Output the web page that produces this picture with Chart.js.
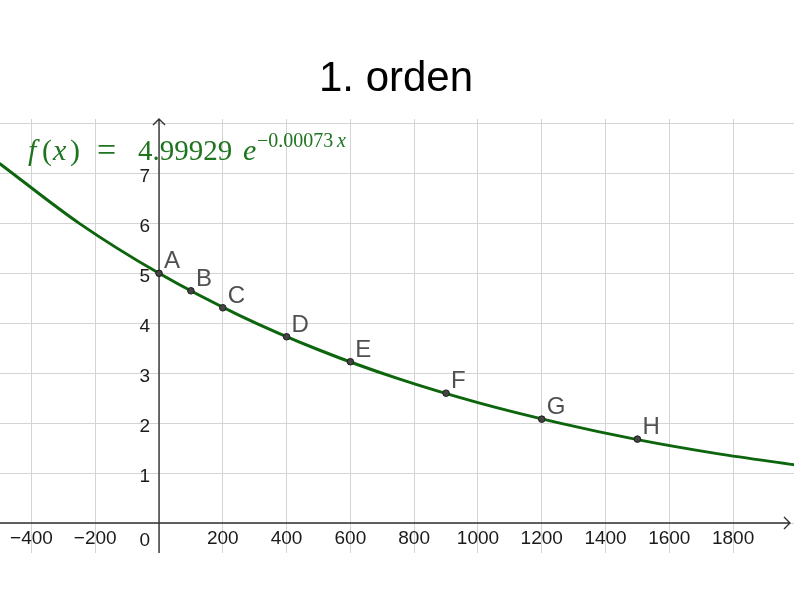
<!DOCTYPE html>
<html>
<head>
<meta charset="utf-8">
<script src="https://cdn.jsdelivr.net/npm/chart.js@4/dist/chart.umd.min.js"></script>
<style>
html,body{margin:0;padding:0;background:#fff;}
canvas{display:block;}
</style>
</head>
<body>
<canvas id="c" width="794" height="595"></canvas>
<script>
// ---- data ----
const titleText = "1. orden";
const pointNames = ["A","B","C","D","E","F","G","H"];
const pointX = [0, 100, 200, 400, 600, 900, 1200, 1500];
const pointY = [5.00, 4.65, 4.31, 3.73, 3.23, 2.60, 2.08, 1.68];
// curve samples
const curveX = [-500, -250, 0, 250, 500, 750, 1000, 1250, 1500, 1750, 2000];
const curveY = [7.20, 6.00, 5.00, 4.165, 3.47, 2.89, 2.41, 2.01, 1.67, 1.39, 1.16];
const xTickValues = [-400, -200, 200, 400, 600, 800, 1000, 1200, 1400, 1600, 1800];
const xTickLabels = ["\u2212400", "\u2212200", "200", "400", "600", "800", "1000", "1200", "1400", "1600", "1800"];
const yTickValues = [1, 2, 3, 4, 5, 6, 7];
const yTickLabels = ["1", "2", "3", "4", "5", "6", "7"];

const curveColor = "#0d650d";
const formulaColor = "#1f741f";

const overlay = {
  id: 'overlay',
  beforeDatasetsDraw(chart) {
    const ctx = chart.ctx, xs = chart.scales.x, ys = chart.scales.y, a = chart.chartArea;
    const x0 = xs.getPixelForValue(0), y0 = ys.getPixelForValue(0);
    ctx.save();
    ctx.strokeStyle = "#333";
    ctx.lineWidth = 1.4;
    // y axis
    ctx.beginPath();
    ctx.moveTo(x0, a.bottom); ctx.lineTo(x0, a.top);
    ctx.moveTo(x0 - 6, a.top + 6); ctx.lineTo(x0, a.top); ctx.lineTo(x0 + 6, a.top + 6);
    ctx.stroke();
    // x axis
    const xr = a.right - 4;
    ctx.beginPath();
    ctx.moveTo(a.left, y0); ctx.lineTo(xr, y0);
    ctx.moveTo(xr - 6, y0 - 6); ctx.lineTo(xr, y0); ctx.lineTo(xr - 6, y0 + 6);
    ctx.stroke();
    // tick labels
    ctx.fillStyle = "#1a1a1a";
    ctx.font = "19px 'Liberation Sans', Arial, sans-serif";
    ctx.textAlign = "center";
    ctx.textBaseline = "alphabetic";
    xTickValues.forEach((v, i) => {
      ctx.fillText(xTickLabels[i], xs.getPixelForValue(v), y0 + 21);
    });
    ctx.textAlign = "right";
    yTickValues.forEach((v, i) => {
      ctx.fillText(yTickLabels[i], x0 - 9, ys.getPixelForValue(v) + 9);
    });
    ctx.fillText("0", x0 - 9, y0 + 23);
    ctx.restore();
  },
  afterDatasetsDraw(chart) {
    const ctx = chart.ctx, xs = chart.scales.x, ys = chart.scales.y;
    ctx.save();
    // point labels
    ctx.fillStyle = "#505050";
    ctx.font = "24px 'Liberation Sans', Arial, sans-serif";
    ctx.textAlign = "left";
    ctx.textBaseline = "alphabetic";
    pointNames.forEach((n, i) => {
      ctx.fillText(n, xs.getPixelForValue(pointX[i]) + 5, ys.getPixelForValue(pointY[i]) - 5);
    });
    // formula
    ctx.fillStyle = formulaColor;
    const serif = "'Liberation Serif', 'DejaVu Serif', serif";
    const base = 160;
    ctx.font = "italic 30px " + serif;
    ctx.fillText("f", 28, base);
    ctx.font = "30px " + serif;
    ctx.fillText("(", 42, base);
    ctx.font = "italic 30px " + serif;
    ctx.fillText("x", 53, base);
    ctx.font = "30px " + serif;
    ctx.fillText(")", 70, base);
    ctx.font = "34px " + serif;
    ctx.fillText("=", 97, base + 1);
    ctx.font = "29px " + serif;
    ctx.fillText("4.99929", 138, base);
    ctx.font = "italic 30px " + serif;
    ctx.fillText("e", 243, base);
    ctx.font = "20px " + serif;
    ctx.fillText("\u22120.00073", 257, 147);
    ctx.font = "italic 20px " + serif;
    ctx.fillText("x", 337, 147);
    // title
    ctx.fillStyle = "#000";
    ctx.font = "42px 'Liberation Sans', Arial, sans-serif";
    ctx.textAlign = "center";
    ctx.fillText(titleText, 396, 91);
    ctx.restore();
  }
};

new Chart(document.getElementById('c'), {
  type: 'scatter',
  data: {
    datasets: [
      {
        label: 'f',
        data: curveX.map((x, i) => ({x: x, y: curveY[i]})),
        showLine: true,
        borderColor: curveColor,
        borderWidth: 3,
        pointRadius: 0,
        cubicInterpolationMode: 'monotone',
        fill: false,
        order: 2
      },
      {
        label: 'points',
        data: pointX.map((x, i) => ({x: x, y: pointY[i]})),
        showLine: false,
        pointRadius: 3.3,
        pointBackgroundColor: "#444",
        pointBorderColor: "#1e1e1e",
        pointBorderWidth: 1,
        order: 1
      }
    ]
  },
  options: {
    responsive: false,
    animation: false,
    events: [],
    layout: { autoPadding: false, padding: { top: 119, bottom: 42, left: 0, right: 0 } },
    plugins: { legend: { display: false }, title: { display: false }, tooltip: { enabled: false } },
    scales: {
      x: {
        type: 'linear',
        min: -498.6,
        max: 1991,
        ticks: { display: false, stepSize: 200, includeBounds: false },
        grid: { color: "#d4d4d4", lineWidth: 1, drawTicks: false },
        border: { display: false },
        afterFit(s) { s.height = 0; s.paddingLeft = 0; s.paddingRight = 0; }
      },
      y: {
        type: 'linear',
        min: -0.6,
        max: 8.09,
        ticks: { display: false, stepSize: 1, includeBounds: false },
        grid: { color: "#d4d4d4", lineWidth: 1, drawTicks: false },
        border: { display: false },
        afterFit(s) { s.width = 0; s.paddingTop = 0; s.paddingBottom = 0; }
      }
    }
  },
  plugins: [overlay]
});
</script>
</body>
</html>
